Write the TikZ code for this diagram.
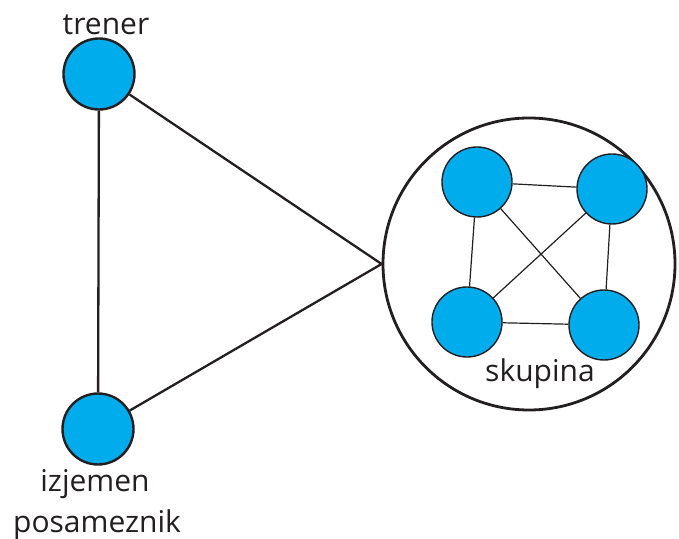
\documentclass[tikz,border=0pt]{standalone}
\usepackage{fontspec}
\setmainfont{Open Sans}
\definecolor{clan}{RGB}{0,172,236}
\definecolor{crta}{RGB}{35,31,32}
\begin{document}
\begin{tikzpicture}[x=1pt,y=1pt,
	oseba/.style={circle,draw=crta,fill=clan,line width=2.4pt,minimum size=71pt,inner sep=0},
	clan/.style={circle,draw=crta,fill=clan,line width=1.4pt,minimum size=70pt,inner sep=0},
	napis/.style={font=\fontsize{30}{32}\selectfont,text=crta,anchor=base,inner sep=0},
	vez/.style={draw=crta,line width=2.3pt},
	notranja/.style={draw=crta,line width=1.2pt}]
\useasboundingbox (0,0) rectangle (679,538);
% skupina
\node[circle,draw=crta,line width=2.8pt,minimum size=292pt,inner sep=0] (skupina) at (529,274) {};
\node[clan] (a) at (477,356) {};
\node[clan] (b) at (612,349) {};
\node[clan] (c) at (467,216) {};
\node[clan] (d) at (604,213) {};
\node[napis] (skupinalbl) at (540,156) {skupina};
% posamezniki
\node[oseba] (trener) at (99,464) {};
\node[oseba] (izjemen) at (98,109) {};
\node[napis] (trenerlbl) at (106,503) {trener};
\node[napis] (izjemenlbl) at (95,47) {izjemen};
\node[napis] (posamezniklbl) at (97,6) {posameznik};
\coordinate (vrh) at (skupina.west);
\draw[vez] (trener) -- (izjemen);
\draw[vez] (trener) -- (vrh) -- (izjemen);
\foreach \u/\v in {a/b,a/c,b/d,c/d,a/d,b/c}
	\draw[notranja] (\u) -- (\v);
\end{tikzpicture}
\end{document}
